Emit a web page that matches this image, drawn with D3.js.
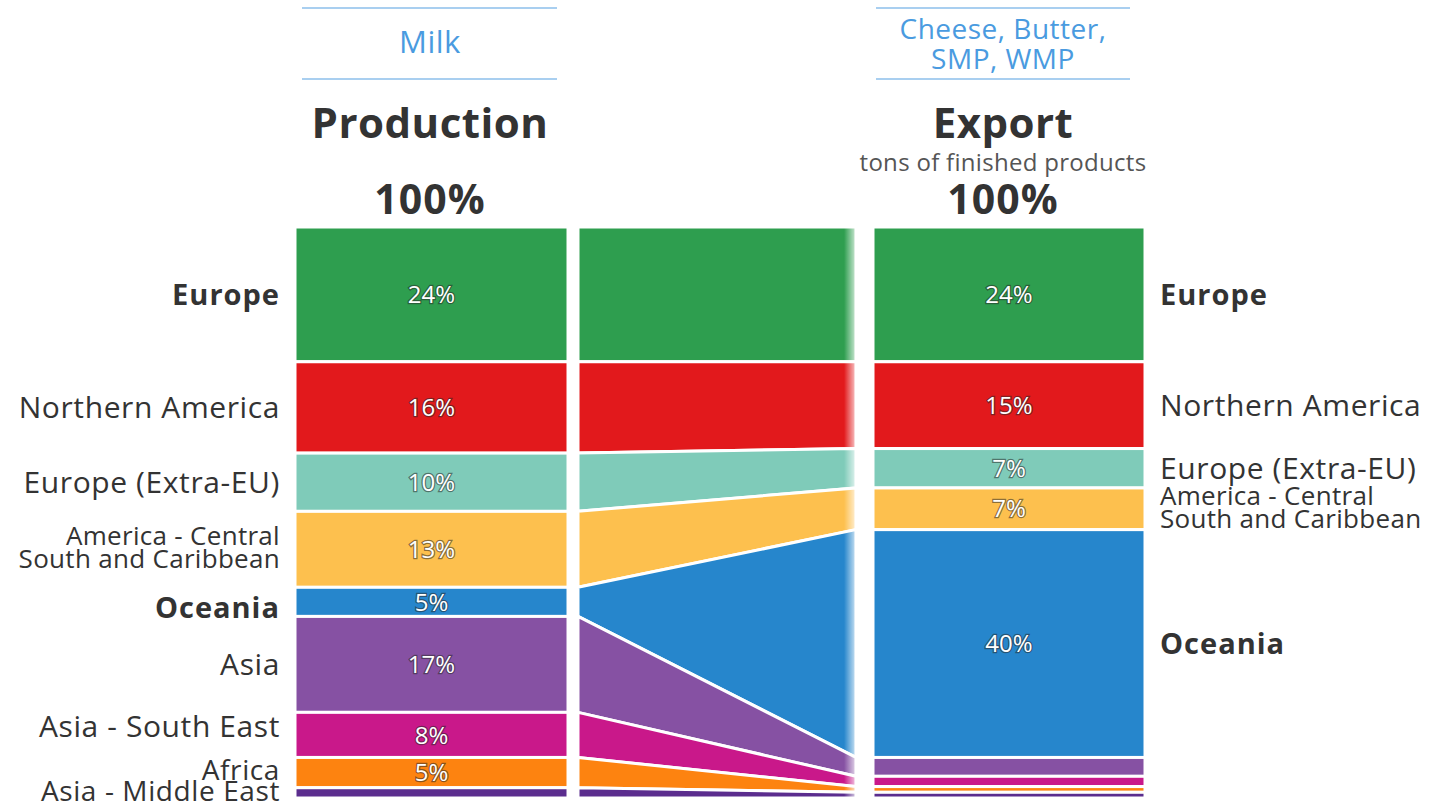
<!DOCTYPE html>
<html>
<head>
<meta charset="utf-8">
<script src="https://cdn.jsdelivr.net/npm/d3@7"></script>
<style>
  body { margin: 0; background: #fff; }
  text { font-family: "Open Sans", sans-serif; }
</style>
</head>
<body>
<div id="chart"></div>
<script>
// regions from top to bottom, share of total in %
var regions = ["Europe", "Northern America", "Europe (Extra-EU)", "America - Central South and Caribbean",
               "Oceania", "Asia", "Asia - South East", "Africa", "Asia - Middle East"];
var productionShare = [23.6, 16.0, 10.2, 13.3, 5.1, 16.8, 7.9, 5.3, 1.8];
var exportShare     = [23.6, 15.2, 6.9, 7.3, 39.9, 3.3, 1.8, 1.0, 1.0];
var colors = ["#2e9e4f", "#e2191c", "#7fcbb9", "#fdc04e", "#2686cc", "#8651a3", "#c9188a", "#fd8310", "#5b2d8e"];
var boldRegions = ["Europe", "Oceania"];
var smallRegions = ["Africa", "Asia - Middle East"];
var rightLabelled = ["Europe", "Northern America", "Europe (Extra-EU)", "America - Central South and Caribbean", "Oceania"];

var width = 1437, height = 809;

var svg = d3.select("#chart")
  .append("svg")
    .attr("width", width)
    .attr("height", height);

// vertical scale in percent
var y = d3.scaleLinear().domain([0, 100]).range([227, 798]);

// column positions
var cols = {
  left:  {x0: 295, x1: 568},
  mid:   {x0: 578, x1: 856},
  right: {x0: 873, x1: 1145}
};

// label tweaks so they don't collide (px)
var labelNudge = {"Oceania": 6, "Asia - South East": -9, "Africa": -3, "Asia - Middle East": -2};

// stack helper
function stack(vals) {
  var c = 0;
  return vals.map(function(v, i) {
    var d = {key: regions[i], v: v, y0: c, y1: c + v, color: colors[i]};
    c += v;
    return d;
  });
}
var left = stack(productionShare);
var right = stack(exportShare);

// fade on right edge of the connector
var defs = svg.append("defs");
var grad = defs.append("linearGradient").attr("id", "fade")
  .attr("x1", "0").attr("x2", "1").attr("y1", "0").attr("y2", "0");
grad.append("stop").attr("offset", "0").attr("stop-color", "#fff").attr("stop-opacity", 0);
grad.append("stop").attr("offset", "1").attr("stop-color", "#fff").attr("stop-opacity", 0.9);

// connector bands
var bands = svg.append("g");
left.forEach(function(d, i) {
  var r = right[i];
  var pts = [[cols.mid.x0, y(d.y0)], [cols.mid.x1, y(r.y0)], [cols.mid.x1, y(r.y1)], [cols.mid.x0, y(d.y1)]];
  bands.append("path")
    .attr("d", d3.line()(pts) + "Z")
    .attr("fill", d.color)
    .attr("stroke", "#fff")
    .attr("stroke-width", 3);
});
svg.append("rect")
  .attr("x", cols.mid.x1 - 12).attr("y", y(0) - 2)
  .attr("width", 14).attr("height", y(100) - y(0) + 4)
  .attr("fill", "url(#fade)");

// the two bars
function drawBar(data, col) {
  var g = svg.append("g");
  g.selectAll("rect")
    .data(data)
    .enter()
    .append("rect")
      .attr("x", col.x0)
      .attr("width", col.x1 - col.x0)
      .attr("y", function(d) { return y(d.y0); })
      .attr("height", function(d) { return y(d.y1) - y(d.y0); })
      .attr("fill", function(d) { return d.color; })
      .attr("stroke", "#fff")
      .attr("stroke-width", 3);
  g.selectAll("text")
    .data(data.filter(function(d) { return d.v >= 4; }))
    .enter()
    .append("text")
      .attr("x", (col.x0 + col.x1) / 2)
      .attr("y", function(d) { return y((d.y0 + d.y1) / 2); })
      .attr("dy", "0.36em")
      .attr("text-anchor", "middle")
      .attr("font-size", 24)
      .attr("fill", "#fff")
      .attr("stroke", "rgba(40,40,40,0.55)")
      .attr("stroke-width", 2.5)
      .attr("paint-order", "stroke")
      .text(function(d) { return Math.round(d.v) + "%"; });
}
drawBar(left, cols.left);
drawBar(right, cols.right);

// region labels
function regionLabel(d, x, anchor) {
  var cy = y((d.y0 + d.y1) / 2) + (anchor === "end" ? (labelNudge[d.key] || 0) : 0);
  var bold = boldRegions.indexOf(d.key) >= 0;
  var t = svg.append("text")
    .attr("x", x)
    .attr("text-anchor", anchor)
    .attr("fill", "#333")
    .attr("font-weight", bold ? 700 : 400)
    .attr("letter-spacing", bold ? 1 : 0.6);
  if (d.key === "America - Central South and Caribbean") {
    t.attr("font-size", 26).attr("letter-spacing", 0.3);
    t.append("tspan").attr("x", x).attr("y", cy - 4).text("America - Central");
    t.append("tspan").attr("x", x).attr("y", cy + 19).text("South and Caribbean");
  } else {
    var fs = smallRegions.indexOf(d.key) >= 0 ? 28 : (bold ? 29 : 30);
    t.attr("font-size", fs)
      .attr("y", cy)
      .attr("dy", "0.36em")
      .text(d.key);
  }
}
left.forEach(function(d) { regionLabel(d, 280, "end"); });
right.filter(function(d) { return rightLabelled.indexOf(d.key) >= 0; })
  .forEach(function(d) { regionLabel(d, 1160, "start"); });

// headers
function header(cx, x0, x1, lines, title, sub, total) {
  svg.append("line").attr("x1", x0).attr("x2", x1).attr("y1", 8).attr("y2", 8)
    .attr("stroke", "#a9cff0").attr("stroke-width", 2);
  svg.append("line").attr("x1", x0).attr("x2", x1).attr("y1", 79).attr("y2", 79)
    .attr("stroke", "#a9cff0").attr("stroke-width", 2);
  var t = svg.append("text").attr("text-anchor", "middle").attr("fill", "#4a9be0")
    .attr("font-size", lines.length === 1 ? 31 : 28).attr("letter-spacing", 0.5);
  var startY = lines.length === 1 ? 53 : 39;
  lines.forEach(function(s, i) {
    t.append("tspan").attr("x", cx).attr("y", startY + i * 30).text(s);
  });
  svg.append("text").attr("x", cx).attr("y", 138).attr("text-anchor", "middle")
    .attr("font-size", 42).attr("font-weight", 700).attr("letter-spacing", 0.5)
    .attr("fill", "#333").text(title);
  if (sub) {
    svg.append("text").attr("x", cx).attr("y", 171).attr("text-anchor", "middle")
      .attr("font-size", 24).attr("letter-spacing", 0.3).attr("fill", "#555").text(sub);
  }
  svg.append("text").attr("x", cx).attr("y", 214).attr("text-anchor", "middle")
    .attr("font-size", 41).attr("font-weight", 700).attr("letter-spacing", 1)
    .attr("fill", "#333").text(total);
}
header(430, 302, 557, ["Milk"], "Production", null, "100%");
header(1003, 876, 1130, ["Cheese, Butter,", "SMP, WMP"], "Export", "tons of finished products", "100%");
</script>
</body>
</html>
